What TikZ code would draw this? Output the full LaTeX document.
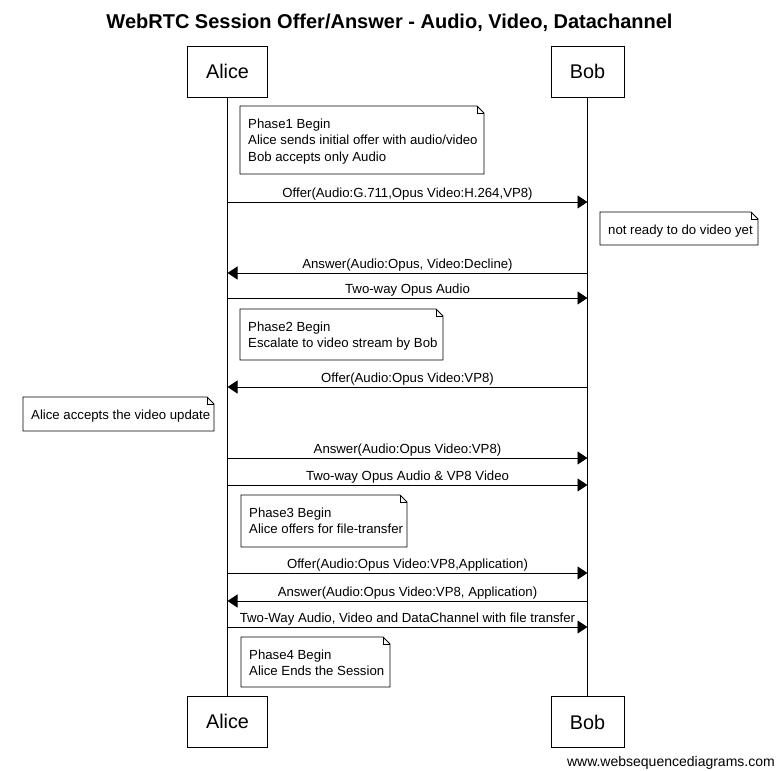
\documentclass[tikz,border=0pt]{standalone}
\usepackage{fontspec}
\setmainfont{Liberation Sans}
\usetikzlibrary{arrows.meta}
\tikzset{
  actor/.style={draw,line width=0.9pt,minimum width=80pt,minimum height=51pt,inner sep=0pt,font=\fontsize{19.8}{22}\selectfont},
  lifeline/.style={line width=0.9pt},
  msg/.style={line width=0.9pt,-{Triangle[length=10pt,width=13pt]}},
  msglabel/.style={font=\fontsize{13.2}{15}\selectfont,inner sep=0pt},
  notetext/.style={font=\fontsize{13.2}{16.5}\selectfont,align=left,anchor=north west,inner sep=0pt},
  noteshape/.style={line width=0.9pt,fill=white}
}
\newcommand{\notebox}[6]{%
  \draw[noteshape] (#1,#2) -- ({#3-7},#2) -- (#3,{#2+7}) -- (#3,#4) -- (#1,#4) -- cycle;
  \draw[line width=0.6pt] ({#3-7},#2) -- ({#3-7},{#2+7}) -- (#3,{#2+7});
  \node[notetext] (#5) at ({#1+8},{#2+12.5}) {#6};
}
\begin{document}
\begin{tikzpicture}[x=1pt,y=-1pt]
\useasboundingbox (0,0) rectangle (777,771);
\fill[white] (0,0) rectangle (777,771);
\node[font=\bfseries\fontsize{20}{22}\selectfont] (title) at (389.5,23) {WebRTC Session Offer/Answer - Audio, Video, Datachannel};
\node[actor] (alice) at (227.5,71.5) {Alice};
\node[actor,minimum width=73pt] (bob) at (587.5,71.5) {Bob};
\node[actor] (alice2) at (227.5,721.5) {Alice};
\node[actor,minimum width=73pt] (bob2) at (587.5,722) {Bob};
\draw[lifeline] (alice.south) -- (alice2.north);
\draw[lifeline] (bob.south) -- (bob2.north);
% notes
\notebox{240}{106}{484}{174}{n1}{Phase1 Begin\\Alice sends initial offer with audio/video\\Bob accepts only Audio}
\notebox{600}{212}{758}{245}{n2}{not ready to do video yet}
\notebox{240}{309}{443}{360}{n3}{Phase2 Begin\\Escalate to video stream by Bob}
\notebox{23}{397}{214}{431}{n4}{Alice accepts the video update}
\notebox{241}{495}{407}{547}{n5}{Phase3 Begin\\Alice offers for file-transfer}
\notebox{241}{637}{390}{687}{n6}{Phase4 Begin\\Alice Ends the Session}
% message endpoints
\foreach \n/\y in {1/202,2/273,3/298,4/387,5/458,6/485,7/573,8/601,9/627}{
  \coordinate (a\n) at (227.5,\y);
  \coordinate (b\n) at (587.5,\y);
}
\draw[msg] (a1) -- node[msglabel,above=1pt] {Offer(Audio:G.711,Opus Video:H.264,VP8)} (b1);
\draw[msg] (b2) -- node[msglabel,above=1pt] {Answer(Audio:Opus, Video:Decline)} (a2);
\draw[msg] (a3) -- node[msglabel,above=1pt] {Two-way Opus Audio} (b3);
\draw[msg] (b4) -- node[msglabel,above=1pt] {Offer(Audio:Opus Video:VP8)} (a4);
\draw[msg] (a5) -- node[msglabel,above=1pt] {Answer(Audio:Opus Video:VP8)} (b5);
\draw[msg] (a6) -- node[msglabel,above=1pt] {Two-way Opus Audio \& VP8 Video} (b6);
\draw[msg] (a7) -- node[msglabel,above=1pt] {Offer(Audio:Opus Video:VP8,Application)} (b7);
\draw[msg] (b8) -- node[msglabel,above=1pt] {Answer(Audio:Opus Video:VP8, Application)} (a8);
\draw[msg] (a9) -- node[msglabel,above=1pt] {Two-Way Audio, Video and DataChannel with file transfer} (b9);
\node[font=\fontsize{14}{16}\selectfont,anchor=east,inner sep=0pt] (footer) at (775,763) {www.websequencediagrams.com};
\end{tikzpicture}
\end{document}
